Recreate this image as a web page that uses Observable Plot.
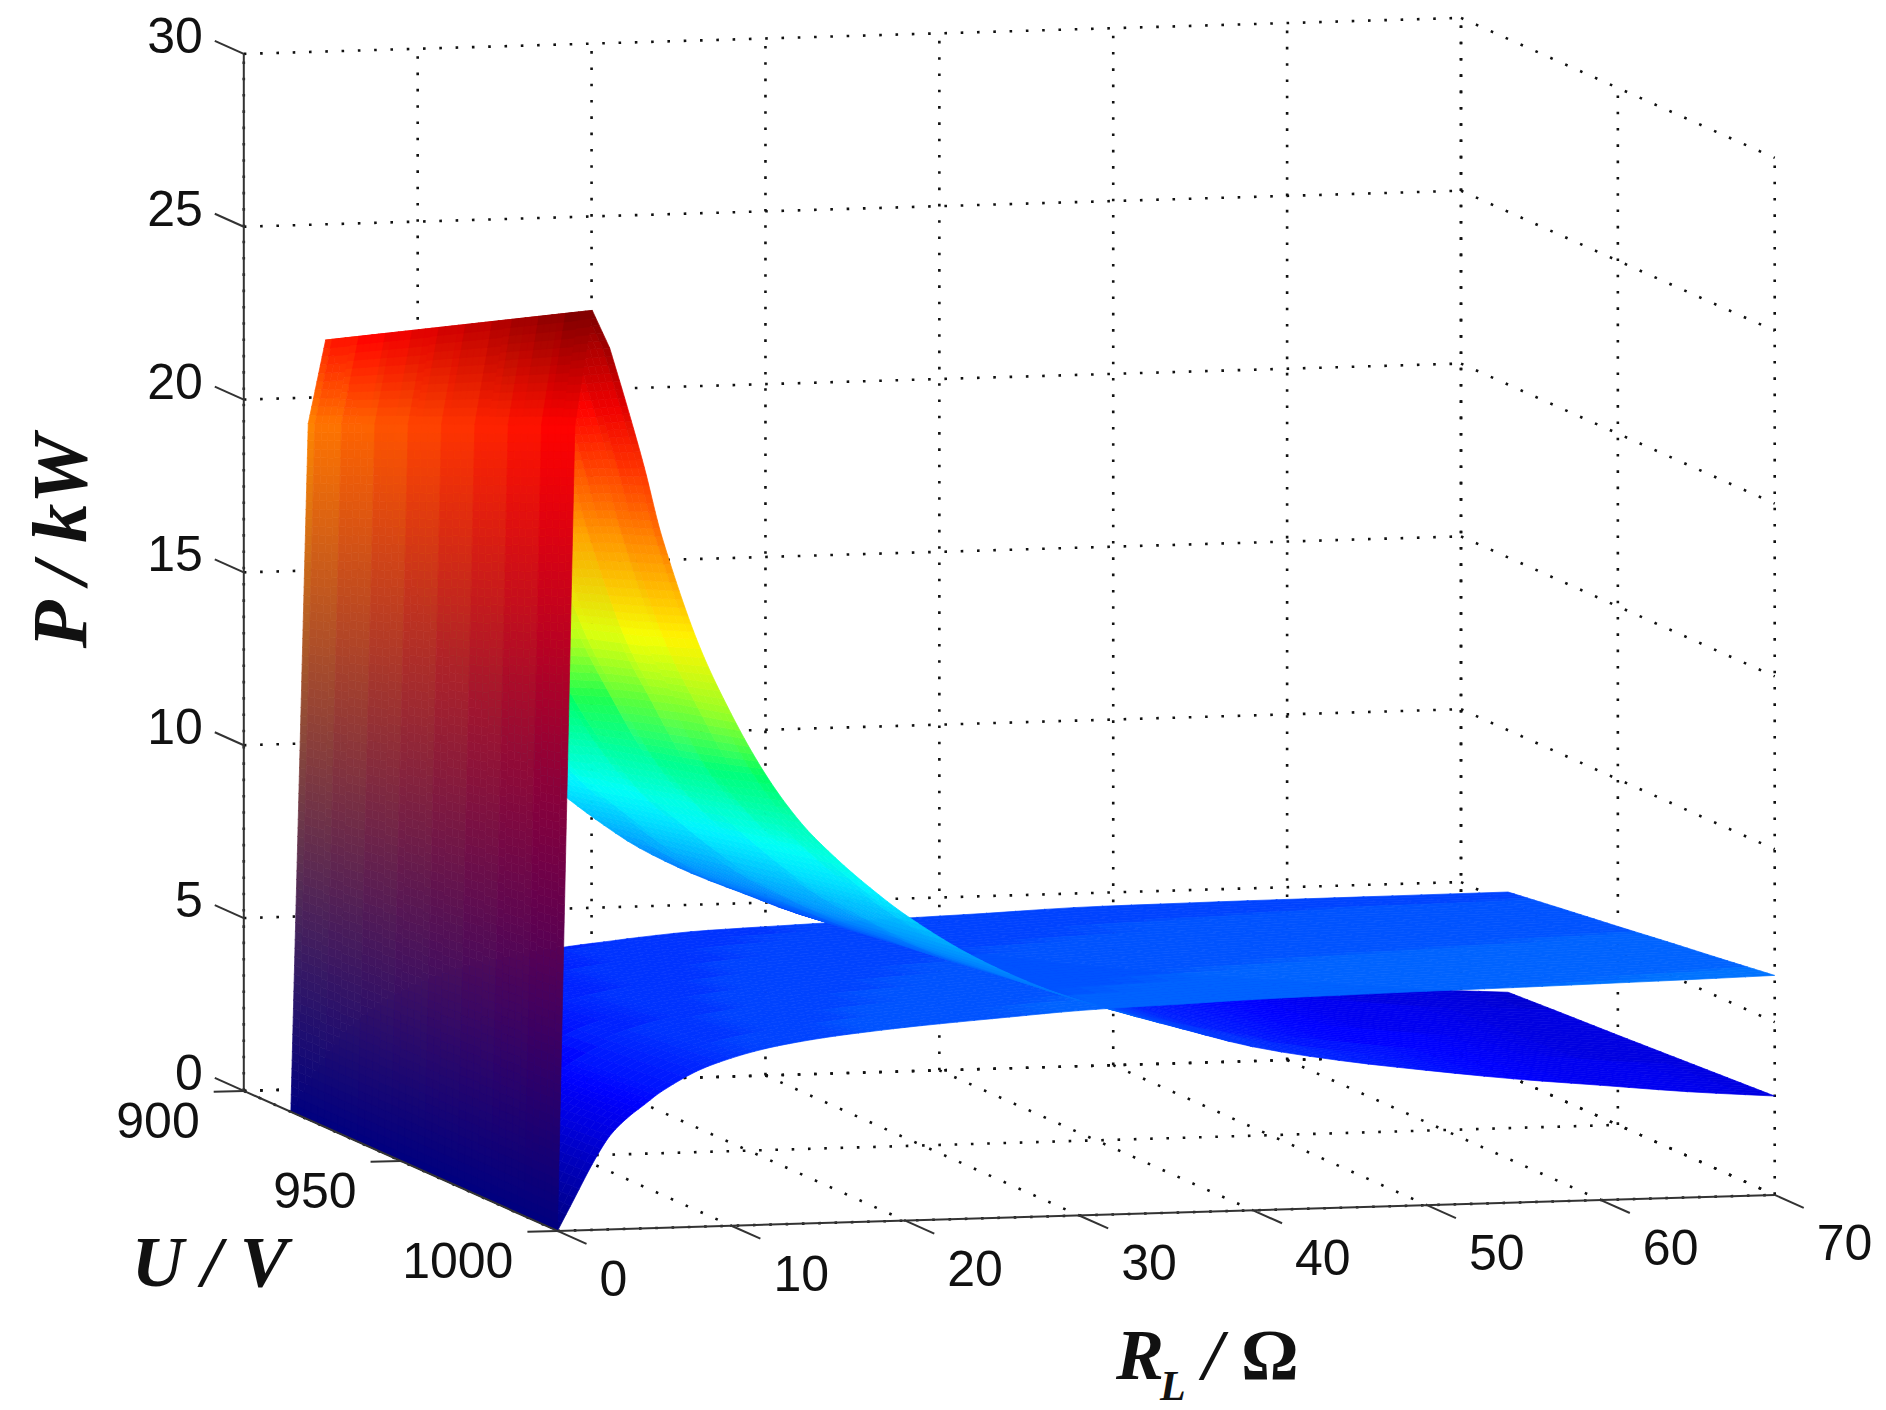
<!DOCTYPE html>
<html>
<head>
<meta charset="utf-8">
<script src="https://cdn.jsdelivr.net/npm/d3@7"></script>
<script src="https://cdn.jsdelivr.net/npm/@observablehq/plot@0.6"></script>
<style>body { margin: 0; background: white; }</style>
</head>
<body>
<div id="chart"></div>
<script>
const resistance = [0, 1, 2, 3, 4, 5, 6, 8, 10, 12, 14, 16, 18, 20, 23, 26, 29, 32, 36, 40, 45, 50, 55, 60, 65, 70]
const voltage = [915, 932, 949, 966, 983, 1000]

// the sheet that peaks at low resistance, one row per voltage
const powerFalling = [
  [0, 19.9, 22.3, 21.4, 20.0, 18.4, 16.7, 14.2, 12.25, 10.75, 9.65, 8.8, 8.03, 7.35, 6.57, 5.94, 5.33, 4.9, 4.42, 3.97, 3.59, 3.3, 3.05, 2.81, 2.58, 2.42],
  [0, 20.58, 23.16, 22.2, 20.8, 19.1, 17.4, 14.8, 12.8, 11.2, 10.0, 9.15, 8.35, 7.65, 6.83, 6.16, 5.54, 5.1, 4.6, 4.12, 3.72, 3.42, 3.16, 2.91, 2.68, 2.51],
  [0, 21.26, 24.02, 23.0, 21.5, 19.8, 18.0, 15.3, 13.3, 11.7, 10.4, 9.5, 8.68, 7.95, 7.08, 6.38, 5.76, 5.3, 4.77, 4.27, 3.86, 3.54, 3.26, 3.01, 2.77, 2.59],
  [0, 21.94, 24.88, 23.8, 22.3, 20.5, 18.7, 15.9, 13.9, 12.1, 10.8, 9.85, 9.0, 8.25, 7.33, 6.6, 5.97, 5.5, 4.95, 4.43, 4.0, 3.66, 3.37, 3.11, 2.87, 2.68],
  [0, 22.62, 25.74, 24.7, 23.0, 21.3, 19.4, 16.4, 14.4, 12.5, 11.2, 10.2, 9.33, 8.55, 7.6, 6.8, 6.2, 5.7, 5.1, 4.58, 4.13, 3.78, 3.48, 3.22, 2.96, 2.77],
  [0, 23.3, 26.6, 25.5, 23.8, 22.0, 20.0, 17.0, 14.8, 13.0, 11.6, 10.55, 9.65, 8.85, 7.85, 7.05, 6.4, 5.9, 5.3, 4.73, 4.26, 3.9, 3.58, 3.32, 3.06, 2.86]
]

// the sheet that levels off at high resistance
const powerRising = [
  [0, 0.78, 1.55, 2.2, 2.65, 3.0, 3.3, 3.75, 4.05, 4.25, 4.42, 4.55, 4.65, 4.75, 4.87, 4.93, 4.98, 5.03, 5.09, 5.15, 5.24, 5.27, 5.29, 5.3, 5.31, 5.32],
  [0, 0.81, 1.62, 2.3, 2.76, 3.12, 3.43, 3.9, 4.21, 4.42, 4.59, 4.72, 4.82, 4.92, 5.04, 5.11, 5.16, 5.22, 5.28, 5.34, 5.42, 5.45, 5.48, 5.49, 5.51, 5.53],
  [0, 0.85, 1.69, 2.4, 2.87, 3.23, 3.56, 4.05, 4.37, 4.59, 4.76, 4.89, 4.99, 5.09, 5.2, 5.28, 5.35, 5.41, 5.47, 5.53, 5.6, 5.64, 5.66, 5.68, 5.71, 5.73],
  [0, 0.88, 1.76, 2.5, 2.98, 3.35, 3.69, 4.2, 4.53, 4.76, 4.93, 5.06, 5.16, 5.26, 5.37, 5.45, 5.53, 5.59, 5.65, 5.72, 5.78, 5.82, 5.85, 5.88, 5.91, 5.94],
  [0, 0.92, 1.83, 2.6, 3.09, 3.46, 3.82, 4.35, 4.69, 4.93, 5.1, 5.23, 5.33, 5.42, 5.53, 5.63, 5.72, 5.78, 5.84, 5.91, 5.97, 6.01, 6.03, 6.07, 6.1, 6.14],
  [0, 0.95, 1.9, 2.7, 3.2, 3.58, 3.95, 4.5, 4.85, 5.1, 5.27, 5.4, 5.5, 5.59, 5.7, 5.8, 5.9, 5.97, 6.03, 6.1, 6.15, 6.19, 6.22, 6.26, 6.3, 6.35]
]

const rTicks = [0, 10, 20, 30, 40, 50, 60, 70]
const uTicks = [900, 950, 1000]
const pTicks = [0, 5, 10, 15, 20, 25, 30]
const maxPower = 26.6

// colormap of the figure: jet, with the saturated green it has in the print
const mapStops = [0, 0.125, 0.375, 0.5, 0.53, 0.625, 0.875, 1]
const mapColors = [[0, 0, 0.5], [0, 0, 1], [0, 1, 1], [0, 1, 0.35], [0.45, 1, 0.2], [1, 1, 0], [1, 0, 0], [0.5, 0, 0]]

// orthographic view of the box
const project = (R, U, P) => {
  const r = R / 70, u = (U - 900) / 100, p = P / 30
  return {x: 243.3 + 1217.2 * r + 313.7 * u, y: 1090.4 - 36 * r + 140 * u - 1037 * p}
}
const nearness = (R, U, P) => -0.2577 * R / 70 + (U - 900) / 100 + 0.144 * P / 30

const seg = (a, b) => {
  const p = project(...a), q = project(...b)
  return {x1: p.x, y1: p.y, x2: q.x, y2: q.y}
}
const at = (R, U, P, label) => ({...project(R, U, P), label: String(label)})

const mix = (a, b, t) => a + (b - a) * t
const jet = P => {
  const v = Math.floor(Math.min(1, P / maxPower) * 63.999) / 63
  const k = Math.min(mapStops.length - 1, Math.max(1, d3.bisectRight(mapStops, v)))
  const t = (v - mapStops[k - 1]) / (mapStops[k] - mapStops[k - 1])
  return mapColors[k - 1].map((c, i) => mix(c, mapColors[k][i], t))
}
const css = (a, b, t) => `rgb(${a.map((c, i) => Math.round(255 * mix(c, b[i], t))).join(',')})`

// smooth P along R inside a cell, from node `from` on; before it the sheet has real creases
const along = (row, from, j, s) => {
  const p0 = row[j], p1 = row[j + 1]
  if (j < from) return mix(p0, p1, s)
  const slope = n => {
    const a = Math.max(from, n - 1), b = Math.min(row.length - 1, n + 1)
    return (row[b] - row[a]) / (resistance[b] - resistance[a])
  }
  const h = resistance[j + 1] - resistance[j]
  const s2 = s * s, s3 = s2 * s
  return (2 * s3 - 3 * s2 + 1) * p0 + (s3 - 2 * s2 + s) * h * slope(j) +
    (3 * s2 - 2 * s3) * p1 + (s3 - s2) * h * slope(j + 1)
}

// cut every cell into small pieces so shading and overlap come out right
const quads = []
const subU = 8
for (const [table, from] of [[powerFalling, 3], [powerRising, 0]]) {
  for (let i = 0; i < voltage.length - 1; i++) {
    for (let su = 0; su < subU; su++) {
      const t0 = su / subU, t1 = (su + 1) / subU, tm = (t0 + t1) / 2
      for (let j = 0; j < resistance.length - 1; j++) {
        const node = (jj, t) => mix(table[i][jj], table[i + 1][jj], t)
        const c0 = jet(node(j, tm)), c1 = jet(node(j + 1, tm))
        const n = Math.max(3, Math.ceil(Math.abs(node(j + 1, tm) - node(j, tm)) * 4))
        for (let k = 0; k < n; k++) {
          const s0 = k / n, s1 = (k + 1) / n
          const corner = (s, t) => [
            mix(resistance[j], resistance[j + 1], s),
            mix(voltage[i], voltage[i + 1], t),
            mix(along(table[i], from, j, s), along(table[i + 1], from, j, s), t)
          ]
          quads.push({
            corners: [corner(s0, t0), corner(s1, t0), corner(s1, t1), corner(s0, t1), corner(s0, t0)],
            depth: nearness(...corner((s0 + s1) / 2, tm)),
            color: css(c0, c1, (s0 + s1) / 2)
          })
        }
      }
    }
  }
}
quads.sort((a, b) => a.depth - b.depth)
const surface = quads.flatMap((q, id) => q.corners.map(c => ({...project(...c), id, color: q.color})))

const grid = [
  ...pTicks.map(P => seg([0, 900, P], [70, 900, P])),
  ...pTicks.map(P => seg([70, 900, P], [70, 1000, P])),
  ...rTicks.map(R => seg([R, 900, 0], [R, 900, 30])),
  ...uTicks.map(U => seg([70, U, 0], [70, U, 30])),
  ...rTicks.map(R => seg([R, 900, 0], [R, 1000, 0])),
  ...uTicks.map(U => seg([0, U, 0], [70, U, 0]))
]
const axes = [
  seg([0, 900, 0], [0, 900, 30]),
  seg([0, 900, 0], [0, 1000, 0]),
  seg([0, 1000, 0], [70, 1000, 0]),
  ...pTicks.map(P => seg([0, 900, P], [0, 890.75, P])),
  ...uTicks.map(U => seg([0, U, 0], [-1.73, U, 0])),
  ...rTicks.map(R => seg([R, 1000, 0], [R, 1009.25, 0]))
]

const tickFont = {fontFamily: 'Liberation Sans', fontSize: 50, fill: '#111'}
const titleFont = {fontFamily: 'Liberation Serif', fontWeight: 'bold', fontStyle: 'italic', fontSize: 72, fill: '#111'}

const chart = Plot.plot({
  width: 1886,
  height: 1410,
  margin: 0,
  style: {background: 'white'},
  x: {domain: [0, 1886], range: [0, 1886], axis: null},
  y: {domain: [0, 1410], range: [0, 1410], axis: null},
  color: {type: 'identity'},
  marks: [
    Plot.link(grid, {x1: 'x1', y1: 'y1', x2: 'x2', y2: 'y2', stroke: '#111', strokeWidth: 2.6, strokeDasharray: '2.6,13.7'}),
    Plot.line(surface, {x: 'x', y: 'y', z: 'id', fill: 'color', stroke: 'color', strokeWidth: 0.7}),
    Plot.link(axes, {x1: 'x1', y1: 'y1', x2: 'x2', y2: 'y2', stroke: '#333', strokeWidth: 2}),

    Plot.text(pTicks.map(P => at(0, 890.75, P, P)), {x: 'x', y: 'y', text: 'label', textAnchor: 'end', dx: -12, dy: -4, ...tickFont}),
    Plot.text(uTicks.map(U => at(-1.73, U, 0, U)), {x: 'x', y: 'y', text: 'label', textAnchor: 'end', dx: -14, dy: 30, ...tickFont}),
    Plot.text(rTicks.map(R => at(R, 1009.25, 0, R)), {x: 'x', y: 'y', text: 'label', textAnchor: 'start', dx: 13, dy: 36, ...tickFont}),

    Plot.text([at(0, 900, 15, 'P / kW')], {x: 'x', y: 'y', text: 'label', rotate: -90, dx: -183, dy: -31, ...titleFont, fontSize: 78}),
    Plot.text([at(0, 950, 0, 'U / V')], {x: 'x', y: 'y', text: 'label', dx: -191, dy: 102, ...titleFont}),
    Plot.text([at(35, 1000, 0, 'R')], {x: 'x', y: 'y', text: 'label', textAnchor: 'start', dx: -50, dy: 143, ...titleFont}),
    Plot.text([at(35, 1000, 0, 'L')], {x: 'x', y: 'y', text: 'label', textAnchor: 'start', dx: -6, dy: 174, ...titleFont, fontSize: 42}),
    Plot.text([at(35, 1000, 0, '/')], {x: 'x', y: 'y', text: 'label', textAnchor: 'start', dx: 37, dy: 143, ...titleFont}),
    Plot.text([at(35, 1000, 0, 'Ω')], {x: 'x', y: 'y', text: 'label', textAnchor: 'start', dx: 75, dy: 143, ...titleFont, fontStyle: 'normal'})
  ]
})

d3.select('#chart').append(() => chart)
</script>
</body>
</html>
